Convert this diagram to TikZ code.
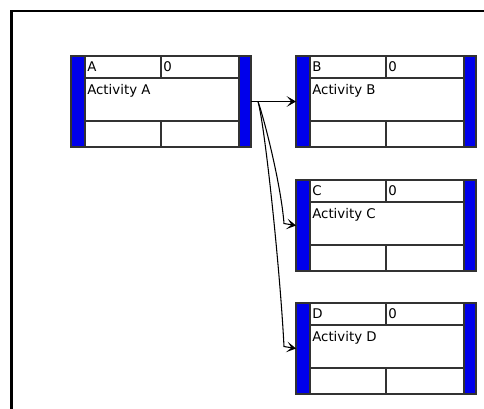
\documentclass[tikz,border=0pt]{standalone}
\usepackage{fontspec}
\setmainfont{DejaVu Sans}
\usetikzlibrary{arrows.meta,calc,positioning}
\definecolor{actblue}{RGB}{0,0,235}
\definecolor{cellgray}{RGB}{50,50,50}

% one activity box: letter, placement options
\newcommand{\activitybox}[2]{%
  \node[actbox,#2] (act#1) {};
  % the blue side bars
  \fill[actblue] (act#1.north west) rectangle ($(act#1.south west)+(14,0)$);
  \fill[actblue] ($(act#1.north east)+(-12,0)$) rectangle (act#1.south east);
  % the cells
  \draw[cellline] ($(act#1.north west)+(14,0)$) -- ($(act#1.south west)+(14,0)$);
  \draw[cellline] ($(act#1.north east)+(-12,0)$) -- ($(act#1.south east)+(-12,0)$);
  \draw[cellline] ($(act#1.north west)+(14,22)$) -- ($(act#1.north east)+(-12,22)$);
  \draw[cellline] ($(act#1.south west)+(14,-26)$) -- ($(act#1.south east)+(-12,-26)$);
  \draw[cellline] (act#1.north) -- ($(act#1.north)+(0,22)$);
  \draw[cellline] ($(act#1.south)+(0,-26)$) -- (act#1.south);
  \draw[cellline] (act#1.north west) rectangle (act#1.south east);
  % the texts
  \node[celltext] (act#1-id) at ($(act#1.north west)+(16,15)$) {#1};
  \node[celltext] (act#1-dur) at ($(act#1.north)+(2,15)$) {0};
  \node[celltext] (act#1-title) at ($(act#1.north west)+(16,38)$) {Activity #1};
}

\begin{document}
\begin{tikzpicture}[x=0.75pt,y=-0.75pt,
  actbox/.style={minimum width=135pt,minimum height=68.25pt,inner sep=0pt,outer sep=0pt},
  cellline/.style={draw=cellgray,line width=0.8pt},
  celltext/.style={anchor=base west,inner sep=0pt,font=\fontsize{10}{12}\selectfont},
  link/.style={-{Stealth[length=7pt,width=8pt,inset=3.5pt]},line width=0.8pt},
  frameline/.style={line width=2pt},
]
\useasboundingbox (0,0) rectangle (484,408);

% the outer frame
\draw[frameline] (11.5,420) -- (11.5,11) -- (500,11);

% the activities
\activitybox{A}{anchor=north west,at={(71,56)}}
\activitybox{B}{right=33.75pt of actA}
\activitybox{C}{below=24.75pt of actB}
\activitybox{D}{below=24pt of actC}

% the links
\coordinate (split) at ($(actA.east)+(7,0)$);
\draw[link] (actA.east) -- (actB.west);
\draw[link] (split) .. controls ($(split)+(7,20)$) and ($(actC.west)+(-15,-40)$)
  .. ($(actC.west)+(-12,-2)$) -- (actC.west);
\draw[link] (split) .. controls ($(split)+(7,25)$) and ($(actD.west)+(-16,-80)$)
  .. ($(actD.west)+(-12,-2)$) -- (actD.west);
\end{tikzpicture}
\end{document}
